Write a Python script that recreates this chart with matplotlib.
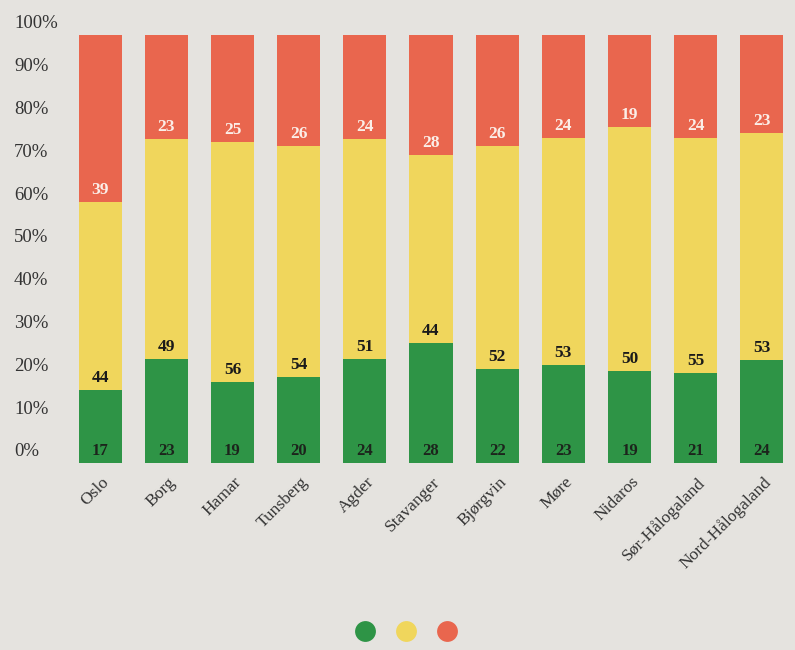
import numpy as np
import matplotlib
matplotlib.use("Agg")
import matplotlib.pyplot as plt
from matplotlib.lines import Line2D
from matplotlib.transforms import blended_transform_factory, offset_copy

categories = ["Oslo", "Borg", "Hamar", "Tunsberg", "Agder", "Stavanger",
              "Bjørgvin", "Møre", "Nidaros", "Sør-Hålogaland", "Nord-Hålogaland"]
green = [17, 23, 19, 20, 24, 28, 22, 23, 19, 21, 24]
yellow = [44, 49, 56, 54, 51, 44, 52, 53, 50, 55, 53]
red = [39, 23, 25, 26, 24, 28, 26, 24, 19, 24, 23]
ytick_vals = [0, 10, 20, 30, 40, 50, 60, 70, 80, 90, 100]
ytick_labels = [f"{v}%" for v in ytick_vals]

colors = {"green": "#2e9446", "yellow": "#f0d65c", "red": "#e9664e"}
bg = "#e5e3df"

plt.rcParams["font.family"] = ["Liberation Serif", "DejaVu Serif"]

fig = plt.figure(figsize=(7.95, 6.5), dpi=100, facecolor=bg)
W, H = 795, 650
ax = fig.add_axes([67 / W, (H - 463) / H, (795 - 67) / W, (463 - 35) / H])
ax.set_facecolor(bg)

g = np.array(green, float)
y = np.array(yellow, float)
r = np.array(red, float)
tot = g + y + r
gp, yp, rp = g / tot * 100, y / tot * 100, r / tot * 100
x = np.arange(len(categories))
w = 0.65

ax.bar(x, gp, w, color=colors["green"])
ax.bar(x, yp, w, bottom=gp, color=colors["yellow"])
ax.bar(x, rp, w, bottom=gp + yp, color=colors["red"])

off = lambda: offset_copy(ax.transData, fig=fig, x=0, y=4, units="dots")
for i in range(len(x)):
    ax.text(x[i], 0, str(green[i]), ha="center", va="bottom", fontsize=12,
            color="#1c241c", fontweight="bold", transform=off())
    ax.text(x[i], gp[i], str(yellow[i]), ha="center", va="bottom", fontsize=12.5,
            color="#1a1a1a", fontweight="bold", transform=off())
    ax.text(x[i], gp[i] + yp[i], str(red[i]), ha="center", va="bottom", fontsize=12.5,
            color="#fbeee8", fontweight="bold", transform=off())

ax.set_xlim(-0.5, len(x) - 0.5)
ax.set_ylim(0, 100)
ax.set_xticks(x)
ax.set_xticklabels([])
ax.set_yticks([])
for s in ax.spines.values():
    s.set_visible(False)
ax.tick_params(length=0)

bt = blended_transform_factory(fig.transFigure, ax.transData)
for v, lab in zip(ytick_vals, ytick_labels):
    ax.text(14 / W, v, lab, ha="left", va="center", fontsize=13.5, color="#333333",
            transform=offset_copy(bt, fig=fig, x=0, y=11, units="dots"))

for i, c in enumerate(categories):
    ax.text(x[i] + 0.02, 0, c, rotation=45, ha="right", va="top",
            rotation_mode="anchor", fontsize=12.5, color="#333333",
            transform=offset_copy(ax.transData, fig=fig, x=0, y=-11, units="dots"))

handles = [Line2D([], [], marker="o", linestyle="none", markersize=15,
                  markerfacecolor=colors[k], markeredgecolor="none")
           for k in ["green", "yellow", "red"]]
fig.legend(handles, ["", "", ""], ncol=3, loc="center", bbox_to_anchor=(406 / W, 1 - 632 / H),
           frameon=False, handletextpad=0, columnspacing=1.75, handlelength=1.2)

fig.savefig("out.png", dpi=100, facecolor=bg)
